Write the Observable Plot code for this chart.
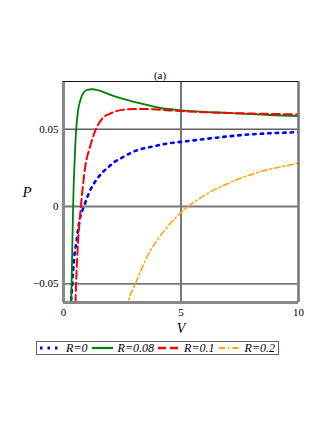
<!DOCTYPE html>
<html>
<head>
<meta charset="utf-8">
<script src="https://cdn.jsdelivr.net/npm/d3@7"></script>
<script src="https://cdn.jsdelivr.net/npm/@observablehq/plot@0.6"></script>
<style>
  html, body { margin: 0; padding: 0; background: #fff; }
  #wrap { position: relative; width: 327px; height: 423px; font-family: "Liberation Serif", "Times New Roman", serif; }
  #wrap svg, #wrap svg text { font-family: "Liberation Serif", "Times New Roman", serif !important; }
  #legend { position: absolute; left: 36px; top: 341px; width: 239px; height: 12px; border: 1px solid #666;
            display: flex; align-items: center; font-style: italic; font-size: 12px; padding-left: 2px; }
  #legend svg { display: block; }
  #legend span { margin-left: 5px; margin-right: 3px; white-space: nowrap; }
</style>
</head>
<body>
<div id="wrap"></div>
<script>
// ---- data ----
const title = "(a)";
const xLabel = "V";
const yLabel = "P";
const xDomain = [0, 10];
const yDomain = [-0.062, 0.0808];
const xTicks = [0, 5, 10];
const yTicks = [-0.05, 0, 0.05];
const seriesNames = ["R=0", "R=0.08", "R=0.1", "R=0.2"];

const V_R0 = [0.30, 0.33, 0.355, 0.40, 0.45, 0.54, 0.68, 0.88, 1.11, 1.28, 1.45, 1.68, 1.92, 2.17, 2.49, 3.13, 3.77, 4.25, 5.0, 5.67, 6.5, 7.67, 8.8, 9.95, 10.0];
const P_R0 = [-0.070, -0.059, -0.0545, -0.0437, -0.034, -0.0239, -0.0092, 0.0005, 0.0097, 0.0145, 0.0183, 0.0224, 0.0256, 0.0289, 0.0316, 0.0364, 0.0387, 0.0403, 0.0418, 0.0430, 0.0445, 0.0463, 0.0474, 0.0482, 0.0483];

const V_R008 = [0.31, 0.326, 0.37, 0.41, 0.43, 0.48, 0.54, 0.62, 0.71, 0.85, 1.0, 1.21, 1.5, 2.0, 2.5, 3.0, 3.5, 4.0, 5.0, 6.0, 7.0, 8.0, 9.0, 10.0];
const P_R008 = [-0.070, -0.062, -0.030, 0.0, 0.012, 0.032, 0.050, 0.062, 0.0683, 0.0736, 0.0753, 0.0758, 0.0750, 0.0722, 0.0697, 0.0677, 0.0658, 0.0640, 0.0622, 0.0612, 0.0605, 0.0597, 0.0590, 0.0584];

const V_R01 = [0.49, 0.51, 0.54, 0.58, 0.64, 0.74, 0.80, 0.92, 1.14, 1.35, 1.63, 1.99, 2.42, 3.0, 3.5, 4.12, 5.0, 6.0, 7.0, 8.0, 9.0, 10.0];
const P_R01 = [-0.070, -0.062, -0.048, -0.034, -0.018, 0.0, 0.0095, 0.0252, 0.0392, 0.0489, 0.0565, 0.0601, 0.0623, 0.0630, 0.0630, 0.0625, 0.0617, 0.0610, 0.0605, 0.0601, 0.0598, 0.0595];

const V_R02 = [2.70, 2.77, 3.06, 3.34, 3.62, 3.98, 4.33, 4.76, 5.19, 6.0, 7.09, 8.51, 9.95, 10.0];
const P_R02 = [-0.066, -0.061, -0.050, -0.0396, -0.0305, -0.0218, -0.0148, -0.0075, -0.0014, 0.0072, 0.0155, 0.0231, 0.0280, 0.0282];

const colors = ["#0000ff", "#008000", "#ff0000", "#ffa500"];
const dashes = ["2.5,5", null, "8,4", "6,3,1.5,3"];
const widths = [2.6, 1.8, 2, 1.6];

function toRows(V, P) { return V.map((v, i) => ({V: v, P: P[i]})); }
const series = [toRows(V_R0, P_R0), toRows(V_R008, P_R008), toRows(V_R01, P_R01), toRows(V_R02, P_R02)];

const curveMarks = series.map((rows, i) => Plot.line(rows, {
  x: "V", y: "P", curve: "monotone-x", clip: true,
  stroke: colors[i], strokeWidth: widths[i],
  strokeDasharray: dashes[i] || undefined
}));

const fmtY = d => d === 0 ? "0" : (d < 0 ? "\u2212" : "") + Math.abs(d).toFixed(2);

const chart = Plot.plot({
  width: 327,
  height: 335,
  marginTop: 81,
  marginBottom: 33,
  marginLeft: 63,
  marginRight: 29,
  style: {fontSize: "11px", color: "#000", background: "#fff"},
  x: {domain: xDomain, ticks: xTicks, tickSize: 0, tickPadding: 6, label: null},
  y: {domain: yDomain, ticks: yTicks, tickSize: 0, tickPadding: 5, label: null, tickFormat: fmtY},
  marks: [
    Plot.ruleY([yTicks[0], yTicks[2]], {stroke: "#111", strokeWidth: 1}),
    Plot.ruleY([0], {stroke: "#777", strokeWidth: 2}),
    Plot.ruleX([5], {stroke: "#777", strokeWidth: 2}),
    ...curveMarks,
    Plot.ruleX([xDomain[0]], {stroke: "#888", strokeWidth: 3}),
    Plot.ruleX([xDomain[1]], {stroke: "#777", strokeWidth: 2.5}),
    Plot.ruleY([yDomain[0]], {stroke: "#888", strokeWidth: 3}),
    Plot.ruleY([yDomain[1]], {stroke: "#111", strokeWidth: 1}),
    Plot.text([title], {text: d => d, frameAnchor: "top", dx: -21, dy: -3, lineAnchor: "bottom", fontSize: 11}),
    Plot.text([yLabel], {text: d => d, frameAnchor: "left", dx: -41, fontSize: 15, fontStyle: "italic"}),
    Plot.text([xLabel], {text: d => d, frameAnchor: "bottom", dy: 30, lineAnchor: "bottom", fontSize: 14, fontStyle: "italic"})
  ]
});
const wrap = document.getElementById("wrap");
wrap.appendChild(chart);

// legend
const legend = document.createElement("div");
legend.id = "legend";
seriesNames.forEach((name, i) => {
  const svg = d3.create("svg").attr("width", 25).attr("height", 10);
  svg.append("line").attr("x1", 1).attr("x2", 25).attr("y1", 5).attr("y2", 5)
    .attr("stroke", colors[i]).attr("stroke-width", widths[i] + 0.4)
    .attr("stroke-dasharray", dashes[i] || null);
  legend.appendChild(svg.node());
  const s = document.createElement("span");
  s.textContent = name;
  legend.appendChild(s);
});
wrap.appendChild(legend);
</script>
</body>
</html>
